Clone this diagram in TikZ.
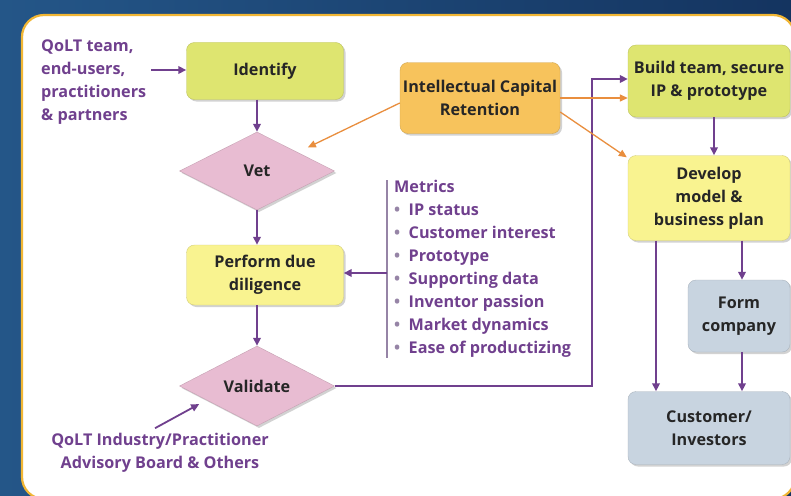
\documentclass[tikz,border=0pt]{standalone}
\usepackage{fontspec}
\setmainfont{Open Sans}
\usepackage{tikz}
\usetikzlibrary{positioning,arrows.meta,shapes.geometric,calc,shadows}

\definecolor{limebox}{RGB}{222,229,112}
\definecolor{palebox}{RGB}{249,243,144}
\definecolor{icbox}{RGB}{247,195,92}
\definecolor{pinkdia}{RGB}{232,188,210}
\definecolor{greybox}{RGB}{200,212,224}
\definecolor{purp}{RGB}{112,64,142}
\definecolor{orng}{RGB}{233,142,62}
\definecolor{framecol}{RGB}{241,182,52}
\definecolor{bracketcol}{RGB}{150,132,166}

\begin{document}
\begin{tikzpicture}[
  x=1pt, y=-1pt,
  every node/.style={font=\fontsize{16.2}{23}\selectfont\bfseries},
  stepbox/.style={draw=#1!85!black, line width=0.4pt, rounded corners=8pt,
                  fill=#1, align=center, inner sep=2pt, text=black!85,
                  drop shadow={opacity=0.35, shadow xshift=2pt, shadow yshift=-2pt}},
  decision/.style={diamond, draw=pinkdia!85!black, line width=0.4pt,
                   fill=pinkdia, inner sep=0pt, minimum width=155pt,
                   minimum height=78pt, text=black!85,
                   drop shadow={opacity=0.35, shadow xshift=2pt, shadow yshift=-2pt}},
  note/.style={text=purp, align=left, inner sep=0pt},
  arr/.style={-{Triangle[length=8pt,width=7.5pt]}, line width=1.8pt, draw=purp},
  oarr/.style={-{Triangle[length=8pt,width=7pt]}, line width=1.3pt, draw=orng}]

%% backdrop and framed panel
\useasboundingbox (0,0) rectangle (791,495);
\fill[left color={rgb,255:red,36;green,86;blue,136},
      right color={rgb,255:red,20;green,52;blue,96}] (0,0) rectangle (791,495);
\begin{scope}
  \clip (0,0) rectangle (791,495);
  \draw[framecol, line width=2.2pt, fill=white, rounded corners=22pt]
    (22,15) rectangle (795,499);
\end{scope}

%% left column
\node[stepbox=limebox, minimum width=157pt, minimum height=57pt] (identify) at (265,71) {Identify};
\node[decision] (vet) at (257,171) {Vet};
\node[stepbox=palebox, minimum width=157pt, minimum height=60pt] (diligence) at (265,275) {Perform due\\diligence};
\node[decision, minimum height=80pt] (validate) at (257,386) {Validate};

%% middle
\node[stepbox=icbox, minimum width=160pt, minimum height=71pt] (retention) at (480,98) {Intellectual Capital\\Retention};

%% right column
\node[stepbox=limebox, minimum width=162pt, minimum height=72pt] (build) at (709,81) {Build team, secure\\IP \& prototype};
\node[stepbox=palebox, minimum width=162pt, minimum height=85pt] (develop) at (709,198) {Develop\\model \&\\business plan};
\node[stepbox=greybox, minimum width=102pt, minimum height=72pt] (form) at (739,316) {Form\\company};
\node[stepbox=greybox, minimum width=162pt, minimum height=73pt] (customer) at (709,428) {Customer/\\Investors};

%% side notes
\node[note, anchor=north west] (team) at (41,40) {QoLT team,\\end-users,\\practitioners\\\& partners};
\node[note, align=center] (advisory) at (160,453) {QoLT Industry/Practitioner\\Advisory Board \& Others};
\node[note, anchor=north west] (metrics) at (394,180) {Metrics\\
  {\color{bracketcol}\textbullet}~~IP status\\
  {\color{bracketcol}\textbullet}~~Customer interest\\
  {\color{bracketcol}\textbullet}~~Prototype\\
  {\color{bracketcol}\textbullet}~~Supporting data\\
  {\color{bracketcol}\textbullet}~~Inventor passion\\
  {\color{bracketcol}\textbullet}~~Market dynamics\\
  {\color{bracketcol}\textbullet}~~Ease of productizing};
\draw[bracketcol, line width=1.2pt] (387,180) -- (387,358);
\coordinate (bracket) at (387,273);

%% purple flow
\draw[arr] ($(team.east |- identify.west)+(5,-1)$) -- ([yshift=1pt]identify.west);
\draw[arr] (vet.north |- identify.south) -- (vet.north);
\draw[arr] (vet.south) -- (vet.south |- diligence.north);
\draw[arr] (validate.north |- diligence.south) -- (validate.north);
\draw[arr] (bracket) -- (diligence.east |- bracket);
\draw[arr] ([shift={(-5pt,5pt)}]advisory.north) -- ([shift={(-19pt,2pt)}]validate.south west);
\draw[arr] (validate.east) -- ++(257,0) |- ([yshift=2pt]build.west);
\draw[arr] ([xshift=5pt]build.south) -- ([xshift=5pt]develop.north);
\draw[arr] ([xshift=3pt]form.north |- develop.south) -- ([xshift=3pt]form.north);
\draw[arr] ([xshift=3pt]form.south) -- ([xshift=3pt]form.south |- customer.north);
\draw[arr] ([xshift=-53pt]develop.south) -- ([xshift=-53pt]customer.north);

%% orange links out of the retention box
\draw[oarr] ([yshift=-5pt]retention.west) -- ([shift={(12pt,4pt)}]vet.north east);
\draw[oarr] (retention.east) -- (retention.east -| build.west);
\draw[oarr] ([yshift=-14pt]retention.east) -- ([shift={(-1pt,-2pt)}]develop.north west);
\end{tikzpicture}
\end{document}
